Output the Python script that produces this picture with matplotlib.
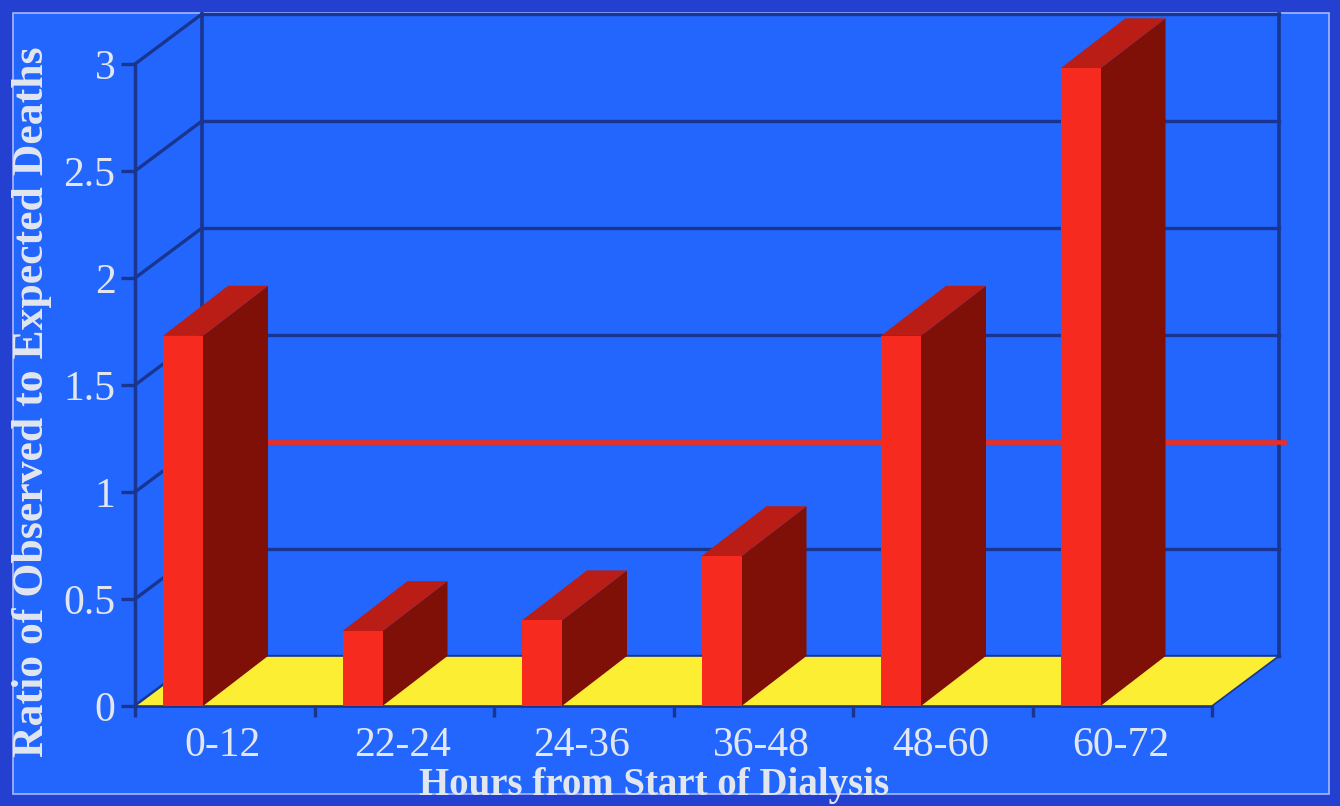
import matplotlib
matplotlib.use('Agg')
import matplotlib.pyplot as plt
from matplotlib.patches import Polygon, Rectangle

# data
categories = ['0-12', '22-24', '24-36', '36-48', '48-60', '60-72']
ratios = [1.73, 0.35, 0.40, 0.70, 1.73, 2.98]
reference = 1.0
y_ticks = [0, 0.5, 1, 1.5, 2, 2.5, 3]
y_tick_labels = ['0', '0.5', '1', '1.5', '2', '2.5', '3']

# colours
bg = '#2266fd'
border = '#2440d0'
grid_c = '#19358f'
front_c = '#f62a1f'
side_c = '#7e1008'
top_c = '#b91d15'
floor_c = '#fcef33'
text_c = '#e2e6ef'

plt.rcParams['font.family'] = ['Liberation Serif', 'DejaVu Serif']

W, H = 1340, 806
fig = plt.figure(figsize=(W / 100, H / 100), dpi=100, facecolor=border)
fig.patches.append(Rectangle((13 / W, 12 / H), 1316 / W, 781 / H, transform=fig.transFigure,
                             facecolor=bg, edgecolor='#a8b8ff', lw=1.2, zorder=-5))

# front plane of the axes: x 135..1212 px, y 64..706 px
ax = fig.add_axes([135 / W, 1 - 706 / H, 1077 / W, 642 / H])
ax.set_zorder(2)
ax.set_xlim(0, len(categories))
ax.set_ylim(0, 3)
ax.patch.set_visible(False)
for s in ['top', 'right']:
    ax.spines[s].set_visible(False)
ax.spines['left'].set_color(grid_c)
ax.spines['left'].set_linewidth(2.5)
ax.spines['bottom'].set_color(grid_c)
ax.spines['bottom'].set_linewidth(2)

# depth offsets in data units
px_x = 1077 / len(categories)
px_y = 642 / 3
dx = 67 / px_x
dy = 50 / px_y
bdx = 65 / px_x
bdy = 50 / px_y

# back wall / left wall grid
for v in y_ticks:
    ax.plot([0, dx], [v, v + dy], color=grid_c, lw=2.4, clip_on=False, zorder=1)
    ax.plot([dx, len(categories) + dx], [v + dy, v + dy], color=grid_c, lw=2.4, clip_on=False, zorder=1)
ax.plot([dx, dx], [dy, 3 + dy], color=grid_c, lw=2.6, clip_on=False, zorder=1)
ax.plot([len(categories) + dx] * 2, [dy, 3 + dy], color=grid_c, lw=2.6, clip_on=False, zorder=1)

# reference line on the back wall
ax.plot([dx + 0.02, len(categories) + dx + 0.03], [reference + dy] * 2, color='#f52c1c', lw=3.3,
        clip_on=False, zorder=2)

# floor
n = len(categories)
ax.add_patch(Polygon([(0, 0), (n, 0), (n + dx, dy), (dx, dy)], closed=True,
                     facecolor=floor_c, edgecolor=grid_c, lw=1.2, clip_on=False, zorder=3))

# bars
off = 28 / px_x
bw = 40 / px_x
for i, h in enumerate(ratios):
    x0 = i + off
    ax.bar(x0, h, width=bw, align='edge', color=front_c, zorder=5, clip_on=False)
    ax.add_patch(Polygon([(x0 + bw, 0), (x0 + bw + bdx, bdy), (x0 + bw + bdx, h + bdy), (x0 + bw, h)],
                         closed=True, facecolor=side_c, edgecolor='none', clip_on=False, zorder=4))
    ax.add_patch(Polygon([(x0, h), (x0 + bdx, h + bdy), (x0 + bw + bdx, h + bdy), (x0 + bw, h)],
                         closed=True, facecolor=top_c, edgecolor='none', clip_on=False, zorder=4))

# ticks
ax.set_yticks(y_ticks)
ax.set_yticklabels(y_tick_labels)
ax.tick_params(axis='y', direction='out', length=10, width=2.4, color=grid_c, pad=4,
               labelsize=30, labelcolor=text_c)
ax.set_xticks(range(n + 1))
ax.set_xticklabels([''] * (n + 1))
ax.set_xticks([i + 0.49 for i in range(n)], minor=True)
ax.set_xticklabels(categories, minor=True)
ax.tick_params(axis='x', which='major', direction='out', length=8, width=2.4, color=grid_c)
ax.tick_params(axis='x', which='minor', length=0, pad=15, labelsize=30, labelcolor=text_c)

fig.text(32 / W, 1 - 402 / H, 'Ratio of Observed to Expected Deaths', rotation=90,
         ha='center', va='center', fontsize=31.5, fontweight='bold', color=text_c)
fig.text(654 / W, 1 - 786 / H, 'Hours from Start of Dialysis', ha='center', va='center',
         fontsize=28, fontweight='bold', color=text_c)

fig.savefig('out.png', dpi=100, facecolor=border)
